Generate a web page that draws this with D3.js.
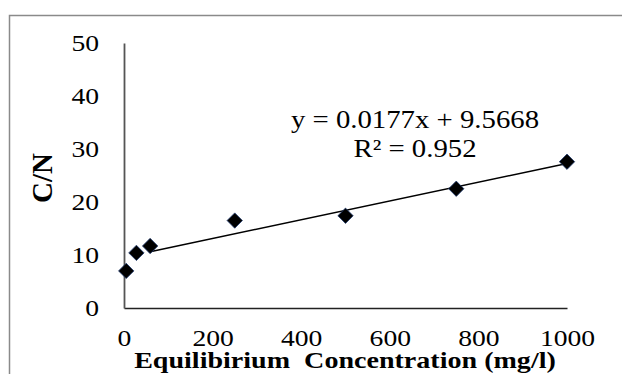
<!DOCTYPE html>
<html>
<head>
<meta charset="utf-8">
<script src="https://cdn.jsdelivr.net/npm/d3@7"></script>
<style>
    body { margin: 0; background: #fff; }
    text { font-family: "Liberation Serif", "Times New Roman", serif; fill: #000; }
</style>
</head>
<body>
<div id="container"></div>
<script>
// values
const concentration = [5, 28, 59, 250, 500, 750, 1000];
const cnRatio = [7.0, 10.4, 11.7, 16.5, 17.4, 22.5, 27.6];
const xTicks = [0, 200, 400, 600, 800, 1000];
const yTicks = [0, 10, 20, 30, 40, 50];
const slope = 0.0177;
const intercept = 9.5668;
const trendFrom = [59, 1000];
const equationLines = ["y = 0.0177x + 9.5668", "R\u00b2 = 0.952"];

const width = 622;
const height = 374;

// the picture is a bit wider than it should be, so stretch text horizontally
function widen(sel, k = 1.15) {
    sel.each(function() {
        const w = this.getComputedTextLength();
        d3.select(this).attr("textLength", w * k).attr("lengthAdjust", "spacingAndGlyphs");
    });
}

const x = d3.scaleLinear([0, 1000], [124, 567]);
const y = d3.scaleLinear([0, 50], [308, 43]);

const svg = d3.create("svg")
    .attr("width", width)
    .attr("height", height)
    .attr("viewBox", [0, 0, width, height]);

// attach first so text can be measured
document.getElementById("container").append(svg.node());

// outer chart frame (cut off on right and bottom)
svg.append("rect")
    .attr("x", 9.5).attr("y", 15.5)
    .attr("width", 640).attr("height", 400)
    .attr("fill", "none")
    .attr("stroke", "#8a8a8a")
    .attr("stroke-width", 1.5);

// x axis
svg.append("g")
    .attr("transform", `translate(0,${y(0)})`)
    .call(d3.axisBottom(x).tickValues(xTicks).tickFormat(d3.format("d")).tickSize(0).tickPadding(21).tickSizeOuter(0))
    .call(g => g.select(".domain").attr("stroke", "#222").attr("stroke-width", 1.3))
    .call(g => g.selectAll("text").attr("font-size", 24).attr("font-family", "Liberation Serif").call(widen));

// y axis
svg.append("g")
    .attr("transform", `translate(${x(0)},0)`)
    .call(d3.axisLeft(y).tickValues(yTicks).tickSize(0).tickPadding(25).tickSizeOuter(0))
    .call(g => g.select(".domain").attr("stroke", "#555").attr("stroke-width", 1.8))
    .call(g => g.selectAll("text").attr("font-size", 24).attr("font-family", "Liberation Serif").call(widen));

// linear trend line
const trend = d3.line().x(d => x(d)).y(d => y(slope * d + intercept));
svg.append("path")
    .attr("fill", "none")
    .attr("stroke", "#000")
    .attr("stroke-width", 1.5)
    .attr("d", trend(trendFrom));

// diamond markers
const diamond = d3.symbol().type(d3.symbolDiamond2).size(150);
svg.append("g")
    .selectAll("path")
    .data(concentration)
    .join("path")
    .attr("transform", (d, i) => `translate(${x(d)},${y(cnRatio[i])})`)
    .attr("d", diamond)
    .attr("fill", "#000")
    .attr("stroke", "#1f3a6e")
    .attr("stroke-width", 0.8);

// equation label
svg.append("g")
    .selectAll("text")
    .data(equationLines)
    .join("text")
    .attr("x", 415)
    .attr("y", (d, i) => 128 + i * 29)
    .attr("text-anchor", "middle")
    .attr("font-size", 25)
    .text(d => d)
    .call(widen);

// axis titles
svg.append("text")
    .attr("x", 345)
    .attr("y", 368)
    .attr("text-anchor", "middle")
    .attr("font-size", 23)
    .attr("font-weight", "bold")
    .attr("xml:space", "preserve")
    .style("white-space", "pre")
    .text("Equilibirium  Concentration (mg/l)")
    .call(widen, 1.22);

svg.append("text")
    .attr("transform", "translate(52,178) scale(1.05,1) rotate(-90)")
    .attr("text-anchor", "middle")
    .attr("font-size", 29)
    .attr("font-weight", "bold")
    .text("C/N");
</script>
</body>
</html>
